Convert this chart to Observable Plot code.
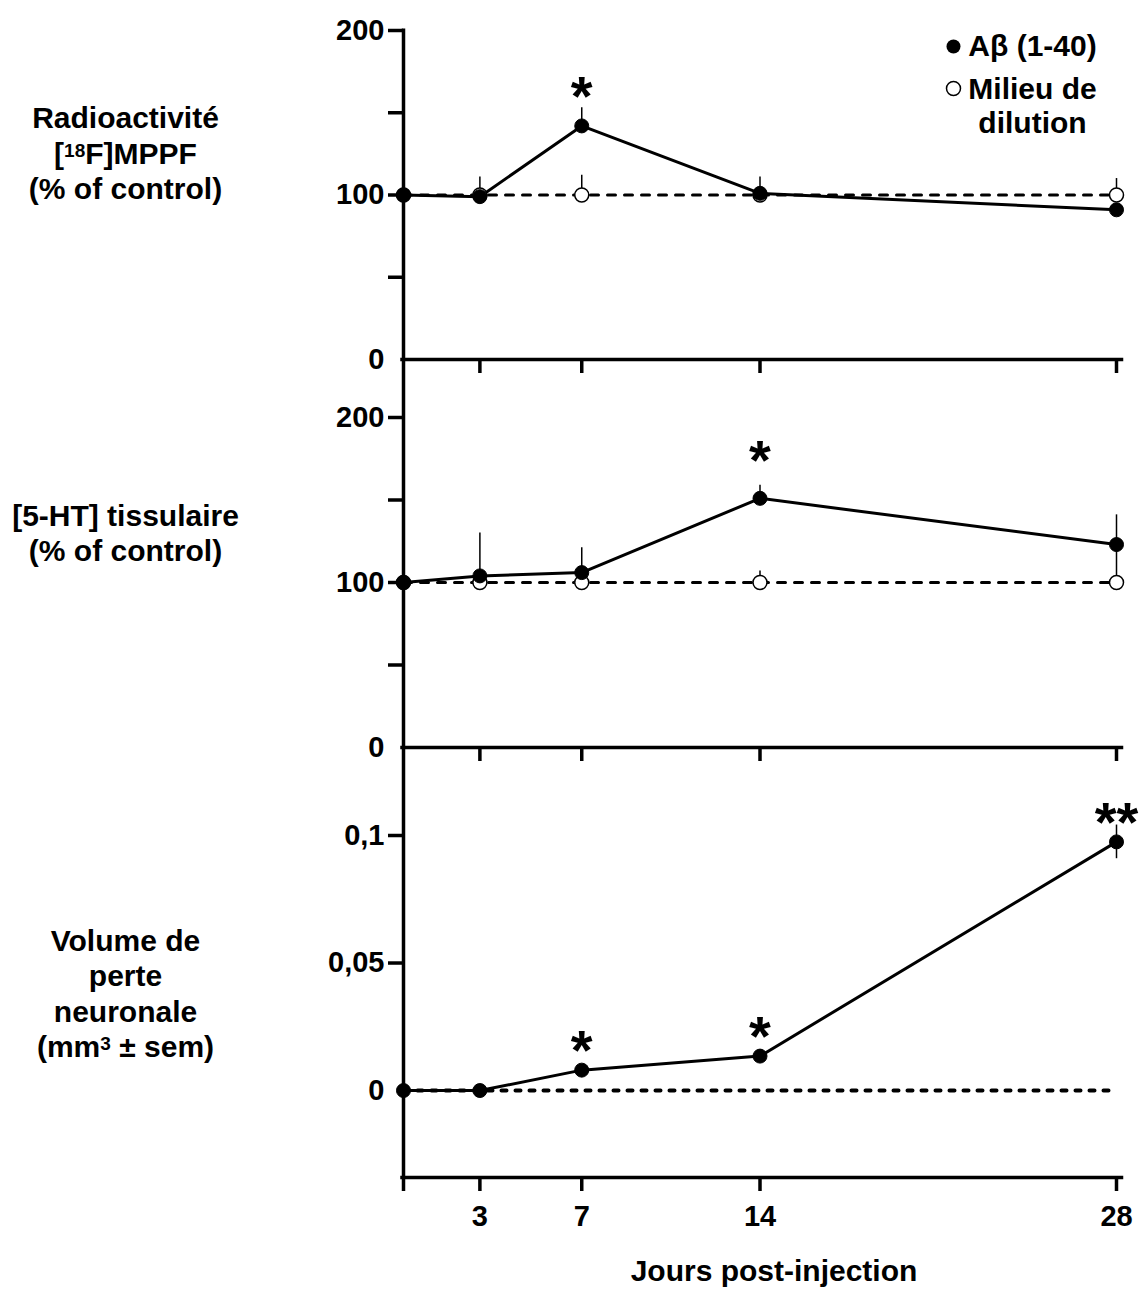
<!DOCTYPE html>
<html><head><meta charset="utf-8">
<script src="https://cdn.jsdelivr.net/npm/d3@7"></script>
<script src="https://cdn.jsdelivr.net/npm/@observablehq/plot@0.6"></script>
<style>
body{margin:0;background:#fff;}
#chart{width:1139px;}
#chart svg{display:block;}
</style></head><body><div id="chart"></div>
<script>
// ---- data ----
const days = [0, 3, 7, 14, 28];
const xTicks = [3, 7, 14, 28];
const seriesNames = ["Aβ (1-40)", "Milieu de\ndilution"];

// Panel 1 : Radioactivité [18F]MPPF (% of control)
const radioAb = [100, 99, 142, 101, 91];
const radioAbSem = [0, 0, 11, 10, 0];
const radioCtl = [100, 100, 100, 100, 100];
const radioCtlSem = [0, 11, 12, 0, 10];
const radioStarDays = [7];
const radioStars = ["*"];

// Panel 2 : [5-HT] tissulaire (% of control)
const htAb = [100, 104, 106, 151, 123];
const htAbSem = [0, 26, 15, 8, 18];
const htCtl = [100, 100, 100, 100, 100];
const htCtlSem = [0, 0, 0, 7, 22];
const htStarDays = [14];
const htStars = ["*"];

// Panel 3 : Volume de perte neuronale (mm3 ± sem)
const volAb = [0, 0, 0.008, 0.0135, 0.0975];
const volAbSem = [0, 0, 0, 0, 0.0066];
const volCtl = [0, 0, 0, 0, 0];
const volStarDays = [7, 14, 28];
const volStars = ["*", "*", "**"];

const yLabels = [
  "Radioactivité\n[¹⁸F]MPPF\n(% of control)",
  "[5-HT] tissulaire\n(% of control)",
  "Volume de\nperte\nneuronale\n(mm³ ± sem)"
];
const pctTicks = [0, 50, 100, 150, 200];
const volTicks = [0, 0.05, 0.1];
const xTitle = "Jours post-injection";

// ---- drawing ----
const FONT = "'Liberation Sans', Arial, Helvetica, sans-serif";
const rows = (mean, sem) => days.map((d, i) => ({day: d, v: mean[i], s: sem[i]}));

function panel(o) {
  const ab = rows(o.ab, o.abSem);
  const ctl = rows(o.ctl, o.ctlSem || o.ctl.map(() => 0));
  const starRows = o.starDays.map((d, i) => ({day: d, v: ab[days.indexOf(d)].v, t: o.stars[i]}));
  const lo = o.twoSided ? (d => d.v - d.s) : (d => d.v);
  const marks = [
    Plot.ruleX(ctl.filter(d => d.s > 0), {x: "day", y1: "v", y2: d => d.v + d.s, stroke: "black", strokeWidth: 1.5}),
    Plot.lineY(ctl, {x: "day", y: "v", stroke: "black", strokeWidth: o.dashWidth, strokeDasharray: o.dash}),
    Plot.ruleX(ab.filter(d => d.s > 0), {x: "day", y1: lo, y2: d => d.v + d.s, stroke: "black", strokeWidth: 1.5}),
    Plot.lineY(ab, {x: "day", y: "v", stroke: "black", strokeWidth: 3}),
    o.ctlMarkers ? Plot.dot(ctl, {x: "day", y: "v", r: 7, fill: "white", stroke: "black", strokeWidth: 1.5}) : null,
    Plot.dot(ab, {x: "day", y: "v", r: 7, fill: "black", stroke: "black", strokeWidth: 1}),
    Plot.text(starRows, {x: "day", y: "v", text: "t", fontSize: 56, fontWeight: "bold", lineAnchor: "middle", dy: o.starDy}),
    // axes
    Plot.ruleX([0], {stroke: "black", strokeWidth: 3.5, insetTop: o.axisInsetTop, insetBottom: o.axisInsetBottom}),
    Plot.frame({anchor: "bottom", stroke: "black", strokeWidth: 3.5, insetRight: -5, insetLeft: -1.5}),
    Plot.axisY({ticks: o.ticks.filter(t => t !== 0), tickSize: 15, tickPadding: 4, strokeWidth: 3.5, tickFormat: o.tickFormat, label: null, fontSize: 29}),
    Plot.axisY({ticks: [0], tickSize: 0, tickPadding: 19, tickFormat: o.tickFormat, label: null, fontSize: 29}),
    Plot.axisX({ticks: xTicks, tickSize: 14, strokeWidth: 3.5, tickPadding: 14, tickFormat: o.showX ? (d => String(d)) : (() => ""), label: null, fontSize: 29}),
    Plot.text([o.label], {text: d => d, frameAnchor: "top-left", dx: 125 - 403, dy: o.labelDy, textAnchor: "middle", lineAnchor: "middle", lineHeight: 1.18, fontSize: 30, fontWeight: "bold"})
  ];
  if (o.legend) {
    marks.push(
      Plot.dot([seriesNames[0]], {frameAnchor: "top-right", dx: -163, dy: 16, r: 7, fill: "black"}),
      Plot.dot([seriesNames[1]], {frameAnchor: "top-right", dx: -163, dy: 58, r: 7, fill: "white", stroke: "black", strokeWidth: 1.5}),
      Plot.text([seriesNames[0]], {text: d => d, frameAnchor: "top-right", dx: -84, dy: 16, textAnchor: "middle", lineAnchor: "middle", fontSize: 30, fontWeight: "bold"}),
      Plot.text([seriesNames[1]], {text: d => d, frameAnchor: "top-right", dx: -84, dy: 75, textAnchor: "middle", lineAnchor: "middle", lineHeight: 1.13, fontSize: 30, fontWeight: "bold"})
    );
  }
  if (o.xTitle) {
    marks.push(Plot.text([o.xTitle], {text: d => d, frameAnchor: "bottom", dx: 14, dy: 94, lineAnchor: "middle", fontSize: 30, fontWeight: "bold"}));
  }
  return Plot.plot({
    width: 1139,
    height: o.height,
    marginLeft: 403, marginRight: 23, marginTop: o.marginTop, marginBottom: o.marginBottom,
    x: {domain: [0, 28]},
    y: {domain: o.yDomain},
    style: {fontFamily: FONT, fontWeight: "bold", fontSize: "29px", color: "black", background: "white", overflow: "visible"},
    marks: marks.filter(Boolean)
  });
}

const pctFormat = d => (d % 100 === 0 ? String(d) : "");
const volFormat = d => String(d).replace(".", ",");

const chart = document.getElementById("chart");
chart.append(panel({
  ab: radioAb, abSem: radioAbSem, ctl: radioCtl, ctlSem: radioCtlSem,
  starDays: radioStarDays, stars: radioStars, starDy: -29,
  yDomain: [0, 200], ticks: pctTicks, tickFormat: pctFormat,
  height: 385, marginTop: 30, marginBottom: 26, axisInsetTop: -1.5, axisInsetBottom: -26,
  label: yLabels[0], labelDy: 122, showX: false, ctlMarkers: true,
  dash: "8,9", dashWidth: 3, legend: true
}));
chart.append(panel({
  ab: htAb, abSem: htAbSem, ctl: htCtl, ctlSem: htCtlSem,
  starDays: htStarDays, stars: htStars, starDy: -37,
  yDomain: [0, 200], ticks: pctTicks, tickFormat: pctFormat,
  height: 385, marginTop: 32, marginBottom: 23, axisInsetTop: -32, axisInsetBottom: -23,
  label: yLabels[1], labelDy: 114.5, showX: false, ctlMarkers: true,
  dash: "8,9", dashWidth: 3
}));
chart.append(panel({
  ab: volAb, abSem: volAbSem, ctl: volCtl,
  starDays: volStarDays, stars: volStars, starDy: -19, twoSided: true,
  yDomain: [-0.0341, 0.12], ticks: volTicks, tickFormat: volFormat,
  height: 538, marginTop: 14, marginBottom: 131, axisInsetTop: -14, axisInsetBottom: -14,
  label: yLabels[2], labelDy: 208, showX: true, ctlMarkers: false,
  dash: "5,9", dashWidth: 4, xTitle: xTitle
}));

// render Unicode superscripts as true raised, smaller text
const supMap = {"¹": "1", "²": "2", "³": "3", "⁸": "8"};
d3.selectAll("#chart tspan, #chart text").each(function () {
  if (this.children.length) return;
  const t = this.textContent;
  if (!/[¹²³⁸]/.test(t)) return;
  const parts = t.split(/([¹²³⁸]+)/).filter(s => s.length);
  const el = d3.select(this);
  el.text(null);
  for (const p of parts) {
    if (/^[¹²³⁸]+$/.test(p)) {
      el.append("tspan").attr("font-size", 19).attr("baseline-shift", "38%")
        .text([...p].map(c => supMap[c]).join(""));
    } else {
      el.append("tspan").text(p);
    }
  }
});
</script>
</body></html>
